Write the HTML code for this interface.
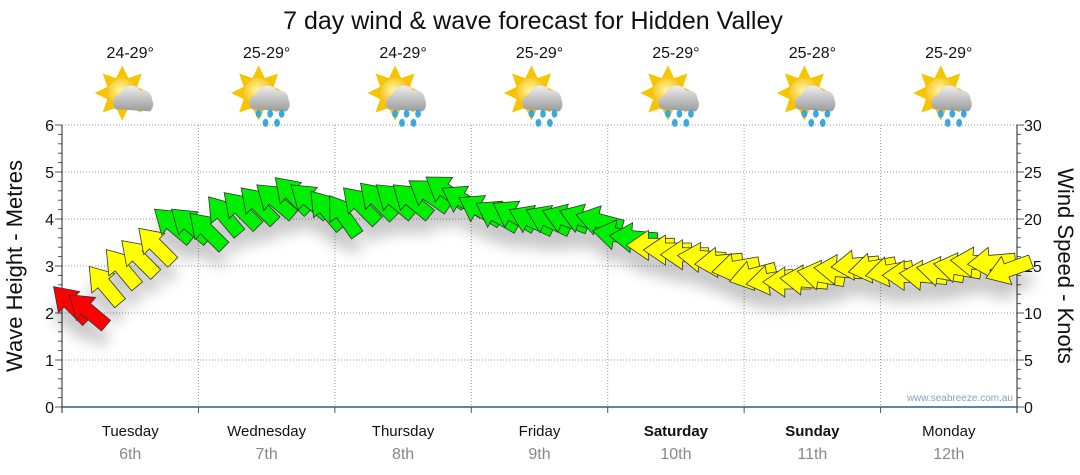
<!DOCTYPE html>
<html><head><meta charset="utf-8"><style>
body{margin:0;background:#fff;width:1080px;height:475px;overflow:hidden;font-family:"Liberation Sans",sans-serif}
svg{display:block}
</style></head><body>
<svg id="chart" width="1080" height="475" xmlns="http://www.w3.org/2000/svg">
<defs>
<filter id="shadow" x="-50%" y="-50%" width="200%" height="250%"><feGaussianBlur in="SourceAlpha" stdDeviation="7"/><feOffset dx="0" dy="16"/><feComponentTransfer><feFuncA type="linear" slope="0.22"/></feComponentTransfer><feMerge><feMergeNode/><feMergeNode in="SourceGraphic"/></feMerge></filter>
<radialGradient id="sunG" cx="0.45" cy="0.4" r="0.6"><stop offset="0" stop-color="#fff6a0"/><stop offset="1" stop-color="#f4b800"/></radialGradient>
<linearGradient id="cloudG" x1="0" y1="0" x2="0" y2="1"><stop offset="0" stop-color="#eeeeee"/><stop offset="1" stop-color="#9a9a9a"/></linearGradient>
</defs>
<text x="533" y="29" font-size="25" text-anchor="middle" fill="#111">7 day wind &amp; wave forecast for Hidden Valley</text>
<g id="grid"></g>
<g id="axes"></g>
<g id="arrows" filter="url(#shadow)"></g>
<g id="days"></g>
<g id="weather"></g>
<text transform="translate(22,266) rotate(-90)" font-size="22" text-anchor="middle" fill="#111">Wave Height - Metres</text>
<text transform="translate(1058,266) rotate(90)" font-size="22" text-anchor="middle" fill="#111">Wind Speed - Knots</text>
<text x="1013" y="401" font-size="10" text-anchor="end" fill="#8aa0bc">www.seabreeze.com.au</text>
</svg>
<script>
const dayNames=["Tuesday","Wednesday","Thursday","Friday","Saturday","Sunday","Monday"];
const dayDates=["6th","7th","8th","9th","10th","11th","12th"];
const temps=["24-29°","25-29°","24-29°","25-29°","25-29°","25-28°","25-29°"];
const rainy=[false,true,true,true,true,true,true];
const leftTicks=[0,1,2,3,4,5,6];
const rightTicks=[0,5,10,15,20,25,30];
const windSpeed=[11,10.3,13,14.8,15.9,17.2,19.4,19.4,
18.8,20.4,21,21.5,22,22.6,22,21,
20.4,21.5,22,22,22,22.6,23,22,
21,20.4,20.4,19.9,19.9,20,20,19.8,
18.3,18,17.2,16.7,16.2,15.9,15.4,14.8,
14,13.5,13.3,13.5,14,14.6,15.1,14.8,
14.4,14,14,14.4,14.8,15.4,15.4,14.6];
const windDir=[-135,-140,-130,-130,-135,-135,-140,-140,
-135,-130,-135,-135,-140,-135,-140,-130,
-125,-135,-135,-140,-140,-145,-145,-150,
-150,-150,-150,-155,-155,-160,-160,-165,
-170,-175,-180,-180,-180,-175,-185,-190,
-195,-190,-180,-175,-170,-175,-185,-190,
-190,-180,-175,-170,-170,-175,-185,-200];
const X0=62,X1=1017,Y0=407,Y1=125,NS="http://www.w3.org/2000/svg";
const dayW=(X1-X0)/7;
function yM(v){return Y0-(v/6)*(Y0-Y1);}
function yK(v){return Y0-(v/30)*(Y0-Y1);}
function xT(i){return X0+(i+0.5)*dayW/8;}
function mk(tag,attrs,parent){const e=document.createElementNS(NS,tag);for(const k in attrs)e.setAttribute(k,attrs[k]);parent.appendChild(e);return e;}
const grid=document.getElementById('grid'),axes=document.getElementById('axes');
for(const t of leftTicks){if(t>0){const l=mk('line',{x1:X0,x2:X1,y1:yM(t),y2:yM(t),stroke:'#999','stroke-dasharray':'1,2'},grid);

}
const tx=mk('text',{x:X0-8,y:yM(t)+6,'font-size':16,'text-anchor':'end',fill:'#111'},axes);tx.textContent=t;

}
for(let i=0;i<=30;i++){const v=i/5;mk('line',{x1:X0-(i%5?4:7),x2:X0,y1:yM(v),y2:yM(v),stroke:'#555'},axes);}
for(const t of rightTicks){const tx=mk('text',{x:X1+7,y:yK(t)+6,'font-size':16,fill:'#111'},axes);tx.textContent=t;

}
for(let i=0;i<=30;i++){mk('line',{x1:X1,x2:X1+(i%5?4:7),y1:yK(i),y2:yK(i),stroke:'#555'},axes);}
for(let d=1;d<7;d++){const x=X0+d*dayW;const l=mk('line',{x1:x,x2:x,y1:Y1,y2:Y0,stroke:'#999','stroke-dasharray':'1,2'},grid);


mk('line',{x1:x,x2:x,y1:Y0,y2:Y0+6,stroke:'#555'},axes);}
mk('line',{x1:X0,x2:X0,y1:Y1,y2:Y0+6,stroke:'#222'},axes);
mk('line',{x1:X1,x2:X1,y1:Y1,y2:Y0+6,stroke:'#222'},axes);
const xa=mk('line',{x1:X0,x2:X1,y1:Y0,y2:Y0,stroke:'#2a5c8a','stroke-width':1.5},axes);


const days=document.getElementById('days');
dayNames.forEach((n,d)=>{const cx=X0+(d+0.5)*dayW;
const t=mk('text',{x:cx,y:436,'font-size':15,'text-anchor':'middle',fill:'#111','font-weight':(d==4||d==5)?'bold':'normal'},days);t.textContent=n;


const t2=mk('text',{x:cx,y:459,'font-size':16,'text-anchor':'middle',fill:'#888'},days);t2.textContent=dayDates[d];

});
const arrows=document.getElementById('arrows');
const pts="-24,-7 2,-7 2,-15 24,0 2,15 2,7 -24,7";
windSpeed.forEach((v,i)=>{const c=v<11.5?'#ff0000':(v<18?'#ffff00':'#00ee00');
const p=mk('polygon',{points:pts,fill:c,stroke:'#333','stroke-width':0.8,transform:`translate(${xT(i)},${yK(v)}) rotate(${windDir[i]})`},arrows);

});
const w=document.getElementById('weather');
temps.forEach((t,d)=>{const cx=X0+(d+0.5)*dayW;
const tt=mk('text',{x:cx,y:58,'font-size':16,'text-anchor':'middle',fill:'#111'},w);tt.textContent=t;


const g=mk('g',{transform:`translate(${cx-8},93) scale(1.15)`},w);


let r='';for(let k=0;k<16;k++){const a=k*Math.PI/8,R=k%2?14:24;r+=(Math.cos(a)*R)+','+(Math.sin(a)*R)+' ';}
mk('polygon',{points:r,fill:'#f7c400'},g);
mk('circle',{r:13,fill:'url(#sunG)'},g);
mk('path',{d:'M-6,14 a8,8 0 0 1 4,-13 a10,10 0 0 1 18,-3 a8,8 0 0 1 10,8 a8,8 0 0 1 -2,10 z',fill:'url(#cloudG)'},g);
if(rainy[d]){for(const [dx,dy] of [[0,18],[10,18],[20,18],[6,26],[16,26]])mk('ellipse',{cx:dx,cy:dy,rx:2.5,ry:3.5,fill:'#3aa8e0'},g);}
});
</script>
</body></html>
